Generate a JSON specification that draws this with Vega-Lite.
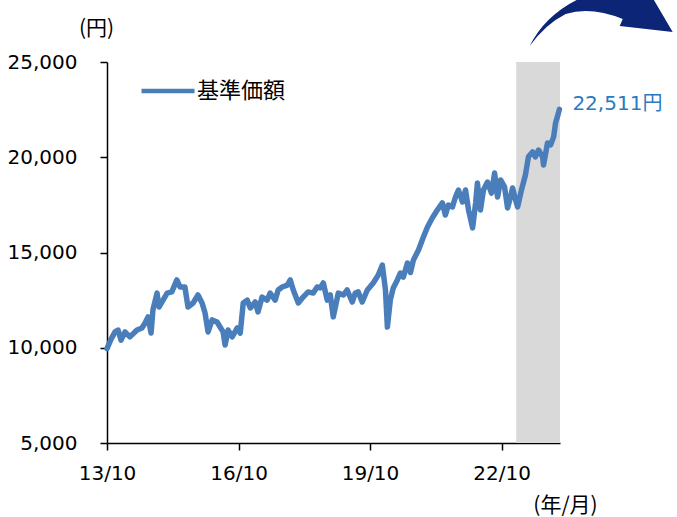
{
  "$schema": "https://vega.github.io/schema/vega-lite/v6.json",
  "width": 453,
  "height": 381,
  "autosize": "none",
  "padding": {"left": 107, "top": 62, "right": 117, "bottom": 74},
  "background": "white",
  "config": {
    "view": {"stroke": null},
    "axis": {
      "grid": false,
      "domainColor": "#000000",
      "domainWidth": 1.5,
      "tickColor": "#000000",
      "tickWidth": 1.5,
      "tickSize": 7,
      "labelFont": "DejaVu Sans",
      "labelFontSize": 20,
      "labelColor": "#000000",
      "titleFont": "Noto Sans CJK JP",
      "titleFontSize": 21,
      "titleFontWeight": "normal",
      "titleColor": "#000000"
    }
  },
  "layer": [
    {
      "data": {"values": [{"start": "2023-01-31", "end": "2024-01-31"}]},
      "mark": {"type": "rect", "color": "#d9d9d9"},
      "encoding": {
        "x": {"field": "start", "type": "temporal"},
        "x2": {"field": "end"}
      }
    },
    {
      "data": {"values": [
        {"date": "2013-10-01", "value": 9950},
        {"date": "2013-11-04", "value": 10450},
        {"date": "2013-12-07", "value": 10830},
        {"date": "2014-01-01", "value": 10930},
        {"date": "2014-01-26", "value": 10400},
        {"date": "2014-02-28", "value": 10830},
        {"date": "2014-04-10", "value": 10570},
        {"date": "2014-06-08", "value": 10930},
        {"date": "2014-07-19", "value": 11040},
        {"date": "2014-08-14", "value": 11300},
        {"date": "2014-09-08", "value": 11620},
        {"date": "2014-10-03", "value": 10770},
        {"date": "2014-10-19", "value": 12000},
        {"date": "2014-11-22", "value": 12870},
        {"date": "2014-12-08", "value": 12140},
        {"date": "2015-01-11", "value": 12500},
        {"date": "2015-02-14", "value": 12870},
        {"date": "2015-03-25", "value": 12930},
        {"date": "2015-05-06", "value": 13560},
        {"date": "2015-06-01", "value": 13190},
        {"date": "2015-07-12", "value": 13190},
        {"date": "2015-08-07", "value": 12140},
        {"date": "2015-09-18", "value": 12350},
        {"date": "2015-10-29", "value": 12770},
        {"date": "2015-12-02", "value": 12350},
        {"date": "2015-12-27", "value": 11820},
        {"date": "2016-01-21", "value": 10830},
        {"date": "2016-02-24", "value": 11460},
        {"date": "2016-04-05", "value": 11350},
        {"date": "2016-04-30", "value": 11090},
        {"date": "2016-05-25", "value": 10830},
        {"date": "2016-06-11", "value": 10140},
        {"date": "2016-07-06", "value": 10930},
        {"date": "2016-08-09", "value": 10570},
        {"date": "2016-09-20", "value": 11040},
        {"date": "2016-10-15", "value": 10770},
        {"date": "2016-11-09", "value": 12350},
        {"date": "2016-12-12", "value": 12500},
        {"date": "2017-01-07", "value": 12090},
        {"date": "2017-02-17", "value": 12400},
        {"date": "2017-03-12", "value": 11880},
        {"date": "2017-04-15", "value": 12660},
        {"date": "2017-05-27", "value": 12500},
        {"date": "2017-06-21", "value": 12870},
        {"date": "2017-08-02", "value": 12500},
        {"date": "2017-08-27", "value": 13030},
        {"date": "2017-09-30", "value": 13190},
        {"date": "2017-11-11", "value": 13290},
        {"date": "2017-12-06", "value": 13560},
        {"date": "2017-12-31", "value": 13030},
        {"date": "2018-02-11", "value": 12350},
        {"date": "2018-03-23", "value": 12660},
        {"date": "2018-05-04", "value": 12930},
        {"date": "2018-06-15", "value": 12870},
        {"date": "2018-07-18", "value": 13190},
        {"date": "2018-08-13", "value": 13140},
        {"date": "2018-09-07", "value": 13400},
        {"date": "2018-10-10", "value": 12500},
        {"date": "2018-11-04", "value": 12770},
        {"date": "2018-11-29", "value": 11620},
        {"date": "2019-01-10", "value": 12870},
        {"date": "2019-02-21", "value": 12770},
        {"date": "2019-03-25", "value": 13030},
        {"date": "2019-05-06", "value": 12400},
        {"date": "2019-05-31", "value": 12870},
        {"date": "2019-06-25", "value": 12930},
        {"date": "2019-07-28", "value": 12400},
        {"date": "2019-09-09", "value": 13030},
        {"date": "2019-10-28", "value": 13400},
        {"date": "2019-12-09", "value": 13820},
        {"date": "2020-01-12", "value": 14340},
        {"date": "2020-02-07", "value": 13030},
        {"date": "2020-02-23", "value": 11090},
        {"date": "2020-03-18", "value": 12500},
        {"date": "2020-04-12", "value": 13140},
        {"date": "2020-05-16", "value": 13560},
        {"date": "2020-06-10", "value": 13920},
        {"date": "2020-07-05", "value": 13710},
        {"date": "2020-08-08", "value": 14450},
        {"date": "2020-09-02", "value": 13950},
        {"date": "2020-09-27", "value": 14610},
        {"date": "2020-11-08", "value": 15130},
        {"date": "2020-12-19", "value": 15810},
        {"date": "2021-01-22", "value": 16340},
        {"date": "2021-03-03", "value": 16810},
        {"date": "2021-04-14", "value": 17230},
        {"date": "2021-05-26", "value": 17600},
        {"date": "2021-06-20", "value": 16970},
        {"date": "2021-07-15", "value": 17490},
        {"date": "2021-08-18", "value": 17390},
        {"date": "2021-09-12", "value": 17910},
        {"date": "2021-10-07", "value": 18280},
        {"date": "2021-11-10", "value": 17650},
        {"date": "2021-12-05", "value": 18280},
        {"date": "2021-12-30", "value": 17230},
        {"date": "2022-02-02", "value": 16290},
        {"date": "2022-02-27", "value": 17600},
        {"date": "2022-03-14", "value": 18650},
        {"date": "2022-04-08", "value": 17230},
        {"date": "2022-05-03", "value": 18280},
        {"date": "2022-06-06", "value": 18700},
        {"date": "2022-07-09", "value": 18120},
        {"date": "2022-08-04", "value": 19170},
        {"date": "2022-08-29", "value": 17910},
        {"date": "2022-09-23", "value": 18810},
        {"date": "2022-10-26", "value": 18440},
        {"date": "2022-11-20", "value": 17340},
        {"date": "2022-12-15", "value": 17910},
        {"date": "2023-01-01", "value": 18390},
        {"date": "2023-01-26", "value": 17760},
        {"date": "2023-02-12", "value": 17390},
        {"date": "2023-03-16", "value": 18280},
        {"date": "2023-04-18", "value": 19070},
        {"date": "2023-05-13", "value": 20020},
        {"date": "2023-06-16", "value": 20280},
        {"date": "2023-07-10", "value": 20020},
        {"date": "2023-08-05", "value": 20380},
        {"date": "2023-09-08", "value": 20020},
        {"date": "2023-09-16", "value": 19590},
        {"date": "2023-10-19", "value": 20750},
        {"date": "2023-11-14", "value": 20650},
        {"date": "2023-12-09", "value": 21070},
        {"date": "2023-12-25", "value": 21800},
        {"date": "2024-01-15", "value": 22250},
        {"date": "2024-01-26", "value": 22511}
      ]},
      "mark": {"type": "line", "strokeWidth": 5.5, "strokeJoin": "round", "strokeCap": "round"},
      "encoding": {
        "x": {
          "field": "date",
          "type": "temporal",
          "scale": {
            "domain": [{"year": 2013, "month": 10, "date": 1}, {"year": 2024, "month": 1, "date": 31}],
            "nice": false
          },
          "axis": {
            "values": [
              {"year": 2013, "month": 10, "date": 1},
              {"year": 2016, "month": 10, "date": 1},
              {"year": 2019, "month": 10, "date": 1},
              {"year": 2022, "month": 10, "date": 1}
            ],
            "format": "%y/%m",
            "labelAlign": "center",
            "labelPadding": 13,
            "title": "(年/月)",
            "titleAnchor": "start",
            "titleAlign": "center",
            "titleBaseline": "middle",
            "titleX": 458,
            "titleY": 62
          }
        },
        "y": {
          "field": "value",
          "type": "quantitative",
          "scale": {"domain": [5000, 25000], "nice": false, "zero": false},
          "axis": {
            "values": [5000, 10000, 15000, 20000, 25000],
            "format": ",d",
            "labelPadding": 23,
            "title": "(円)",
            "titleAngle": 0,
            "titleAnchor": "start",
            "titleAlign": "center",
            "titleBaseline": "middle",
            "titleX": -11,
            "titleY": -34
          }
        },
        "color": {
          "datum": "基準価額",
          "type": "nominal",
          "scale": {"range": ["#4a7ebb"]},
          "legend": {
            "orient": "none",
            "legendX": 32,
            "legendY": 0,
            "title": null,
            "padding": 0,
            "symbolType": "stroke",
            "symbolSize": 2809,
            "symbolStrokeWidth": 4.5,
            "labelFont": "Noto Sans CJK JP",
            "labelFontSize": 22,
            "labelColor": "#000000",
            "labelOffset": 0
          }
        }
      }
    },
    {
      "data": {"values": [{"date": "2024-01-26", "value": 22511, "label": "22,511円"}]},
      "mark": {"type": "text", "align": "left", "baseline": "middle", "dx": 13, "dy": -5, "font": "DejaVu Sans, Noto Sans CJK JP", "fontSize": 20, "color": "#2a7bbf"},
      "encoding": {
        "x": {"field": "date", "type": "temporal"},
        "y": {"field": "value", "type": "quantitative"},
        "text": {"field": "label"}
      }
    },
    {
      "data": {"values": [{"date": "2025-01-04", "value": 27100}]},
      "mark": {
        "type": "point",
        "filled": true,
        "size": 20736,
        "color": "#0c2577",
        "opacity": 1,
        "shape": "M-0.986,0.333 Q-0.722,-0.194 -0.069,-0.417 L0.625,-0.5 L1,0.139 L0.264,0.056 L0.306,-0.042 Q-0.139,-0.222 -0.486,-0.111 Q-0.764,0.028 -0.986,0.333 Z"
      },
      "encoding": {
        "x": {"field": "date", "type": "temporal"},
        "y": {"field": "value", "type": "quantitative"}
      }
    }
  ]
}
